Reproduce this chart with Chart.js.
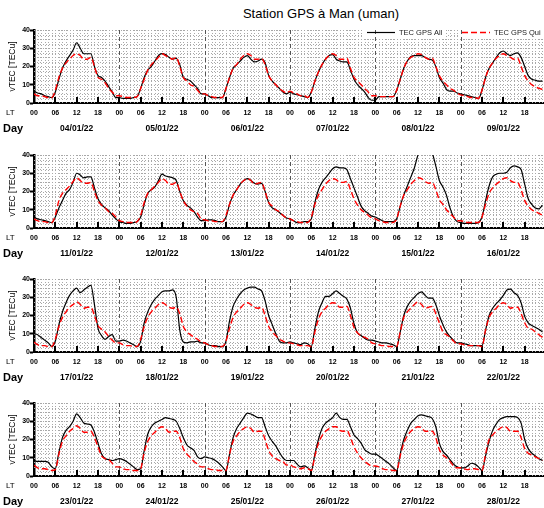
<!DOCTYPE html>
<html>
<head>
<meta charset="utf-8">
<script src="https://cdn.jsdelivr.net/npm/chart.js@4.4.1/dist/chart.umd.min.js"></script>
<style>
  html, body { margin: 0; padding: 0; background: #fff; width: 544px; height: 508px; overflow: hidden; }
  #wrap { position: relative; width: 544px; height: 508px; overflow: hidden; }
  #title { position: absolute; top: 7px; left: 221px; width: 200px; text-align: center;
           font: 13px/13px "Liberation Sans", Arial, sans-serif; color: #000; white-space: nowrap; }
  canvas { position: absolute; left: 0; }
</style>
</head>
<body>
<div id="wrap">
  <div id="title">Station GPS à Man (uman)</div>
  <canvas id="p1" width="560" height="115" style="top:22px"></canvas>
  <canvas id="p2" width="560" height="115" style="top:147px"></canvas>
  <canvas id="p3" width="560" height="115" style="top:271px"></canvas>
  <canvas id="p4" width="560" height="115" style="top:395px"></canvas>
</div>
<script>
// hours since 00 LT of the first day of each panel (hourly values)
const hours = Array.from({length: 144}, (_, i) => i)

// panel 1
const days1 = ['04/01/22', '05/01/22', '06/01/22', '07/01/22', '08/01/22', '09/01/22']
const tecAll1 = [
  6.5,5.5,5,4,3.5,3,6,13,19,23,26,29,33,30,27,27,27,20,15,14,12,9,6,3,
  3,2.5,2.5,2.5,3,3.5,8,14,18,20,23,26,27,26.5,25,24,24.5,21,14,13,12,10,8,5,
  5,4,3,3,3,3,8,14,19,21,23,25,26,24,22.5,23,24,22,15,12,10,8,6,5,
  6,5,4.5,4,3.5,3,6,12,17,21,24,26,26.5,24,23,22.5,22.5,18,13,10,8,6,3,1.5,
  1.5,3.5,3.5,3.5,3.5,3.5,7,13,19,23,25.5,26,26,26,25,24,23.5,20,14,11,7.5,6.5,6.5,5.5,
  5,4.5,4,3.5,3,2.5,7,14,19,22,25,27.5,28.5,27,26,27,27.5,25,20,15,13,12.5,12,12
]
const tecQuiet1 = [
  5,4,4,3.5,3,3,7,14,19,22,24,26,27,26,24,24,25,20,14,13,11,8,6,4,
  4,3.5,3,3,3,3.5,8,13,18,21,23,25,27,26,25,24,25,20,14,12,10,9,7,5,
  5,4,3.5,3,3,3,8,14,19,21,24,26,27,26,24,24,24.5,21,15,12,10,8,6.5,5.5,
  6.5,5.5,5,4,4,3,6,12,17,21,24,26,27,26,24,24,24.5,19,14,12,10,8,6,4,
  4,3.5,3.5,3.5,3.5,3.5,7,13,19,23,25,26,27,26.5,25,24,24.5,20,15,12,10,8,7,5.5,
  4.5,4,3.5,3,3,2.5,7,14,19,22,24.5,26,27,26,25,24,24.5,20,15,12,10,9,8,7.5
]

// panel 2
const days2 = ['11/01/22', '12/01/22', '13/01/22', '14/01/22', '15/01/22', '16/01/22']
const tecAll2 = [
  6,5,4.5,4,3.5,3,6,11,15,19,21,25,30,29,27.5,28,28,22,16,13,11,9.5,7,5,
  3.5,3,2.5,2.5,3,3.5,6,13,19,21,22.5,26,29.5,28.5,28,27.5,26,20,15,12.5,11,9,6,4,
  4,4.5,4.5,4,3.5,3.5,6,13,18,21,24,26,27,26,24.5,24,24.5,20,14,11,10,8.5,7,5.5,
  5,4,3,3,3.5,3.5,5,14,21,25,27.5,30,32.5,33.5,33,33,32,27,22,17,12,9.5,8,6.5,
  6,5,4,3.5,3.5,3.5,5,12,18,23,28,33,40,43,44,43,41,34,26,22.5,18,11,6,3.5,
  3,2.5,2.5,2.5,2.5,3,6,15,23,28,29.5,30,30,30.5,33,34,33.5,32,24,16,13,11,10.5,12.5
]
const tecQuiet2 = [
  5,4,3.5,3.5,3,3,7,15,19,21,23,25.5,27.5,26,24.5,24.5,25,20,15,12.5,11,9,8,6,
  4,3.5,3,3,3,3.5,7,14,19,21,23,25,27,26,24,24,25,20,15,12,10,9,8,5,
  4.5,4,4,3.5,3.5,3.5,7,13,18,21,24,26,27,26,24,24.5,25,20,14,12,10,9,7,5.5,
  5,4,3.5,3,3,3,6,13,18,21,24,26,27,26.5,25,25,25.5,21,16,12.5,10,8.5,7,5.5,
  5,4,3.5,3,3,3,5,12,18,21,24,26,27.5,27,25.5,24.5,25,21,15.5,13,10,8,6,4,
  4,3.5,3,3,3,3,6,13,19,22,24,25.5,27,27.5,26,25,25,21,15,12,10,9,8,7
]

// panel 3
const days3 = ['17/01/22', '18/01/22', '19/01/22', '20/01/22', '21/01/22', '22/01/22']
const tecAll3 = [
  10,9.5,8,6.5,5,3,6,15,22,27,31,33.5,35,32.5,34,35.5,36.5,26,13,9,7,8.5,9.5,6,
  6,6.5,6,5,4,3,6,16,22,26,29,31,33,33.5,33.5,34,30,12,5.5,5,5.5,5.5,6,5,
  5,4,3.5,3.5,3,3,6,17,25,29,32,34,35,35.5,35.5,34.5,33.5,28,20,15,10,6,5,5,
  5.5,5,4.5,4,5,4.5,3,13,22,27,30.5,30.5,32,33.5,32,30.5,29,24,15.5,10.5,9,7.5,6.5,6.5,
  6,5.5,5,5,4.5,4,3,11,20,25,28,30,32,33,31,29.5,29.5,26,20,15,11,8.5,6.5,5,
  5,4.5,4,3.5,3.5,3.5,3.5,12,20,24,26.5,28.5,31,34,34.5,32.5,31,27,19.5,16,14.5,13.5,12.5,11
]
const tecQuiet3 = [
  5.5,4,3.5,3.5,3,3,7,14,19,22,24.5,26,27.5,26,24,24.5,24.5,20,14.5,12.5,11,8.5,6.5,5,
  5,4,3.5,3.5,3,3,7,14,19,22,24,26,27,26,24.5,24,24.5,21,14,11,9.5,8,7,5.5,
  5,4,3.5,3,3,3,6,13,19,22,24,26,27,26,24.5,24,24.5,20,14,11,9,7,6,5,
  5,4.5,4,3.5,3.5,3.5,3,11,18,22,24,26,27,26.5,24.5,24.5,25,20,13.5,10.5,9,8,7,5,
  4.5,4,3.5,3.5,3,3,3,11,19,22,24,26,27.5,26,24,24.5,25,21,16,11,9.5,8,6,4.5,
  4.5,4,3.5,3.5,3.5,3.5,3,12,19,22,24,26,27,26,24,24.5,24.5,21,16,13,12.5,11,9.5,8
]

// panel 4
const days4 = ['23/01/22', '24/01/22', '25/01/22', '26/01/22', '27/01/22', '28/01/22']
const tecAll4 = [
  8.5,8,8,8,7.5,5,4,13,21,25,27,30,34,32,29,28.5,28,24,18,12,9.5,9,8.5,9,
  9.5,9,8,6.5,5,3.5,4,14,23,27,29,30,31,32,31.5,31,30,26,21,17,15.5,14,10.5,9.5,
  10.5,10,9.5,8.5,7,5,3,12,21,26,29,32,34.5,34,33,32,32,27,22,19,16.5,13,10,8.5,
  8.5,8.5,6.5,5,5.5,4.5,3,12,20,26,29,30.5,32,34.5,32,31,31,27,22.5,20.5,18,14.5,13,12,
  12,11,9.5,8,6.5,4.5,3,12,20,25,29,31,33,33.5,33,32.5,31.5,27,18,13.5,11.5,9,6.5,5,
  4.5,4.5,5.5,7,6.5,5,3,11,19,25,28.5,31,32,32.5,32.5,32.5,32,29,20,15,12.5,11,9.5,8.5
]
const tecQuiet4 = [
  6,4.5,4,4,3.5,3,3.5,12,19,22,24.5,26,27.5,26,24,24,24.5,21,16,11,9.5,9,7,5,
  5,4,3.5,3.5,3,3,4,13,19,22,24,26,27,26,24,24.5,24.5,21,15,12,10,8,6.5,5,
  5,4,3.5,3.5,3,3,3,12,19,22,24.5,26,27,26,24,24.5,24.5,20,14,11,9.5,8.5,8,6,
  6,5,4.5,4,4.5,4,3,11,18,22,24.5,26,27,27,25,24.5,25,21,16,12.5,10,8,6.5,5.5,
  5.5,5,4,3.5,3.5,3,3,11,18,22,24.5,26,27,26.5,24.5,24.5,24.5,21,14.5,11.5,10,8,5.5,4.5,
  4.5,4,3.5,4,4,3.5,3,12,20,22.5,24.5,26,27,26.5,24.5,24.5,24.5,21,15,12.5,11.5,10.5,9.5,8.5
]

const yTicks = [0, 10, 20, 30, 40]
const hourLabels = ['00', '06', '12', '18']

Chart.defaults.font.family = '"Liberation Sans", Arial, sans-serif'
Chart.defaults.color = '#000'

// dotted grid, day separators, inner tick marks, LT/Day captions and the legend
const panelDeco = {
  id: 'panelDeco',
  beforeDatasetsDraw(chart, args, opts) {
    const {ctx, chartArea: a, scales: {x, y}} = chart
    ctx.save()
    ctx.beginPath()
    ctx.rect(a.left, a.top - 1, a.right - a.left, a.bottom - a.top + 1)
    ctx.clip()

    ctx.strokeStyle = '#a8a8a8'
    ctx.lineWidth = 1
    ctx.setLineDash([1, 2])
    for (let h = 1; h < 144; h++) {
      if (h % 24 === 0) continue
      const px = Math.round(x.getPixelForValue(h)) + 0.5
      ctx.beginPath(); ctx.moveTo(px, a.top); ctx.lineTo(px, a.bottom); ctx.stroke()
    }
    for (let v = 2.5; v <= 40; v += 2.5) {
      const py = Math.round(y.getPixelForValue(v)) + 0.5
      ctx.beginPath(); ctx.moveTo(a.left, py); ctx.lineTo(a.right, py); ctx.stroke()
    }

    if (opts.legend) {
      ctx.fillStyle = '#fff'
      ctx.fillRect(364, a.top - 1, 82, 8)
      ctx.fillRect(459, a.top - 1, 101, 8)
    }

    ctx.strokeStyle = '#555'
    ctx.setLineDash([4, 3])
    for (let d = 1; d < 6; d++) {
      const px = Math.round(x.getPixelForValue(d * 24)) + 0.5
      ctx.beginPath(); ctx.moveTo(px, a.top); ctx.lineTo(px, a.bottom); ctx.stroke()
    }

    ctx.setLineDash([])
    ctx.strokeStyle = '#000'
    ctx.lineWidth = 2
    for (let h = 0; h < 144; h += 6) {
      const px = Math.round(x.getPixelForValue(h))
      ctx.beginPath(); ctx.moveTo(px, a.bottom); ctx.lineTo(px, a.bottom - 6); ctx.stroke()
    }
    ctx.restore()
  },
  afterDraw(chart, args, opts) {
    const {ctx, chartArea: a} = chart
    ctx.save()
    ctx.fillStyle = '#000'
    ctx.textBaseline = 'middle'
    ctx.font = '8px "Liberation Sans", Arial, sans-serif'
    ctx.fillText('LT', 6, a.bottom + 10)
    ctx.font = 'bold 11px "Liberation Sans", Arial, sans-serif'
    ctx.fillText('Day', 3, a.bottom + 26)

    if (opts.legend) {
      const ly = a.top + 2.5
      ctx.lineWidth = 1.2
      ctx.strokeStyle = '#000'
      ctx.beginPath(); ctx.moveTo(367, ly); ctx.lineTo(395, ly); ctx.stroke()
      ctx.strokeStyle = '#ff0000'
      ctx.lineWidth = 1.4
      ctx.setLineDash([6, 3])
      ctx.beginPath(); ctx.moveTo(462, ly); ctx.lineTo(490, ly); ctx.stroke()
      ctx.setLineDash([])
      ctx.fillStyle = '#222'
      ctx.font = '7.5px "Liberation Sans", Arial, sans-serif'
      ctx.fillText('TEC GPS All', 399, ly + 0.5)
      ctx.fillText('TEC GPS Qui', 494, ly + 0.5)
    }
    ctx.restore()
  }
}

function makePanel(id, days, all, quiet, legend) {
  const toPoints = arr => hours.map(h => ({x: h, y: arr[h]}))
  return new Chart(document.getElementById(id), {
    type: 'line',
    data: {
      datasets: [
        {
          label: 'TEC GPS Qui',
          data: toPoints(quiet),
          borderColor: '#ff0000',
          borderWidth: 1.4,
          borderDash: [6, 3],
          pointRadius: 0,
          cubicInterpolationMode: 'monotone',
          order: 0
        },
        {
          label: 'TEC GPS All',
          data: toPoints(all),
          borderColor: '#000',
          borderWidth: 1.2,
          pointRadius: 0,
          cubicInterpolationMode: 'monotone',
          order: 1
        }
      ]
    },
    options: {
      responsive: false,
      animation: false,
      devicePixelRatio: 1,
      events: [],
      layout: {padding: {top: 8, right: 14, left: 0, bottom: 0}},
      plugins: {
        legend: {display: false},
        tooltip: {enabled: false},
        panelDeco: {legend: legend}
      },
      scales: {
        x: {
          type: 'linear',
          position: 'bottom',
          min: 0,
          max: 144,
          weight: 0,
          afterFit: s => { s.height = 14 },
          grid: {display: false, drawTicks: false},
          border: {display: true, color: '#000', width: 2},
          ticks: {
            stepSize: 6,
            autoSkip: false,
            maxRotation: 0,
            padding: 5.5,
            font: {size: 7, weight: 'bold'},
            callback: v => (v < 144 ? hourLabels[(v % 24) / 6] : '')
          }
        },
        day: {
          type: 'linear',
          position: 'bottom',
          min: 0,
          max: 144,
          weight: 1,
          afterFit: s => { s.height = 20 },
          afterBuildTicks: s => { s.ticks = days.map((_, i) => ({value: 12 + 24 * i})) },
          grid: {display: false, drawTicks: false},
          border: {display: false},
          ticks: {
            autoSkip: false,
            maxRotation: 0,
            padding: 7,
            font: {size: 8.5, weight: 'bold'},
            callback: (v, i) => days[i]
          }
        },
        y: {
          min: 0,
          max: 40,
          afterFit: s => { s.width = 34 },
          afterBuildTicks: s => { s.ticks = yTicks.map(v => ({value: v})) },
          grid: {display: true, drawOnChartArea: false, drawTicks: true, tickLength: 4, tickWidth: 2, tickColor: '#000'},
          border: {display: true, color: '#000', width: 2.5},
          ticks: {padding: 0, font: {size: 7, weight: 'bold'}},
          title: {display: true, text: 'vTEC [TECu]', font: {size: 8.5}, padding: {top: 8, bottom: 0}}
        }
      }
    },
    plugins: [panelDeco]
  })
}

makePanel('p1', days1, tecAll1, tecQuiet1, true)
makePanel('p2', days2, tecAll2, tecQuiet2, false)
makePanel('p3', days3, tecAll3, tecQuiet3, false)
makePanel('p4', days4, tecAll4, tecQuiet4, false)
</script>
</body>
</html>
